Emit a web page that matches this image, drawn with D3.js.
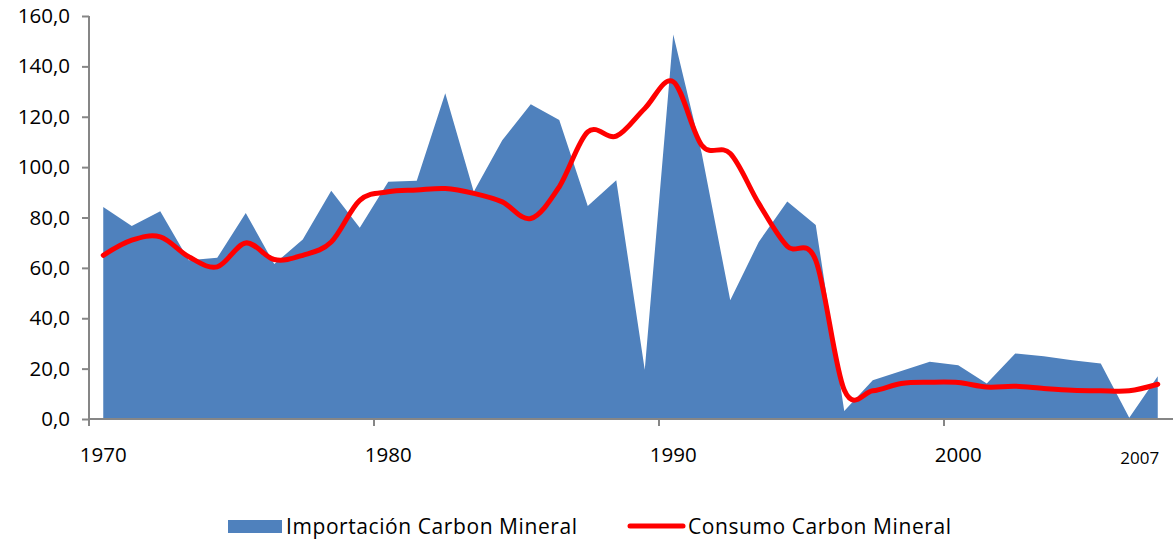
<!DOCTYPE html>
<html>
<head>
<meta charset="utf-8">
<script src="https://cdn.jsdelivr.net/npm/d3@7"></script>
<style>
  body { margin: 0; background: #fff; }
  text { font-family: "Open Sans", "Noto Sans", sans-serif; fill: #000; }
</style>
</head>
<body>
<div id="canvas"></div>
<script>
const years = d3.range(1970, 2008);
const importacion = [84.2, 76.6, 82.5, 63.0, 64.0, 81.8, 61.5, 71.3, 90.6, 75.9,
                     94.2, 94.6, 129.3, 90.2, 110.7, 125.0, 118.7, 84.6, 94.8, 19.6,
                     152.7, 105.4, 47.1, 70.3, 86.4, 77.0, 3.2, 15.4, 19.1, 22.7,
                     21.3, 14.1, 26.0, 24.9, 23.3, 22.0, 0.5, 17.0];
const consumo = [65.0, 71.0, 72.3, 64.4, 60.4, 69.9, 63.3, 65.0, 70.3, 86.8,
                 90.2, 90.9, 91.5, 89.6, 86.2, 79.6, 92.2, 114.0, 112.3, 123.3,
                 133.9, 108.7, 105.4, 85.6, 68.6, 63.0, 11.5, 11.2, 14.1, 14.6,
                 14.5, 12.7, 13.0, 12.1, 11.4, 11.2, 11.2, 13.8];
const yTicks = [0, 20, 40, 60, 80, 100, 120, 140, 160];
const xTickYears = [1970, 1980, 1990, 2000];
const seriesNames = ["Importación Carbon Mineral", "Consumo Carbon Mineral"];

const w = 1173;
const h = 542;
const margin = { top: 16, bottom: 123, left: 89, right: 1 };

const svg = d3.select("#canvas")
  .append("svg")
  .attr("width", w)
  .attr("height", h);

const x = d3.scaleBand()
  .domain(years)
  .range([margin.left, w - margin.right]);

const y = d3.scaleLinear()
  .domain([0, 160])
  .range([h - margin.bottom, margin.top]);

const cx = d => x(d) + x.bandwidth() / 2;

const rows = years.map((yr, i) => ({ year: yr, imp: importacion[i], con: consumo[i] }));

// area series
const area = d3.area()
  .x(d => cx(d.year))
  .y0(y(0))
  .y1(d => y(d.imp));

svg.append("path")
  .datum(rows)
  .attr("fill", "#4F81BD")
  .attr("d", area);

// y axis
const yAxis = svg.append("g")
  .attr("transform", "translate(" + margin.left + ",0)")
  .call(d3.axisLeft(y)
    .tickValues(yTicks)
    .tickSize(7)
    .tickPadding(12)
    .tickFormat(d => d3.format(".1f")(d).replace(".", ",")));
yAxis.select(".domain").attr("stroke", "#868686").attr("stroke-width", 2).attr("d", "M0," + y(0) + "V" + y(160));
yAxis.selectAll(".tick line").attr("stroke", "#868686").attr("stroke-width", 2);
yAxis.selectAll(".tick text").attr("font-size", 20.5).attr("fill", "#000");

// x axis
const xAxis = svg.append("g")
  .attr("transform", "translate(0," + y(0) + ")");
xAxis.append("line")
  .attr("x1", margin.left)
  .attr("x2", w)
  .attr("stroke", "#868686")
  .attr("stroke-width", 2);
xAxis.selectAll(".xtick")
  .data(xTickYears)
  .enter()
  .append("line")
  .attr("x1", d => x(d))
  .attr("x2", d => x(d))
  .attr("y1", 0)
  .attr("y2", 7)
  .attr("stroke", "#868686")
  .attr("stroke-width", 2);
xAxis.selectAll(".xlabel")
  .data(xTickYears)
  .enter()
  .append("text")
  .attr("x", d => cx(d))
  .attr("y", 43)
  .attr("text-anchor", "middle")
  .attr("font-size", 20.5)
  .text(d => d);
xAxis.append("text")
  .attr("x", cx(2007) - 18)
  .attr("y", 45)
  .attr("text-anchor", "middle")
  .attr("font-size", 17)
  .text("2007");

// line series
const line = d3.line()
  .x(d => cx(d.year))
  .y(d => y(d.con))
  .curve(d3.curveCatmullRom.alpha(0));

svg.append("path")
  .datum(rows)
  .attr("fill", "none")
  .attr("stroke", "#FF0000")
  .attr("stroke-width", 5)
  .attr("stroke-linejoin", "round")
  .attr("stroke-linecap", "round")
  .attr("d", line);

// legend
const legend = svg.append("g").attr("transform", "translate(0,526)");
legend.append("rect")
  .attr("x", 228).attr("y", -6).attr("width", 54).attr("height", 13)
  .attr("fill", "#4F81BD");
legend.append("text")
  .attr("x", 286).attr("y", 8)
  .attr("font-size", 21)
  .attr("textLength", 291)
  .text(seriesNames[0]);
legend.append("line")
  .attr("x1", 630).attr("x2", 683).attr("y1", 0).attr("y2", 0)
  .attr("stroke", "#FF0000").attr("stroke-width", 5).attr("stroke-linecap", "round");
legend.append("text")
  .attr("x", 688).attr("y", 8)
  .attr("font-size", 21)
  .attr("textLength", 263)
  .text(seriesNames[1]);
</script>
</body>
</html>
